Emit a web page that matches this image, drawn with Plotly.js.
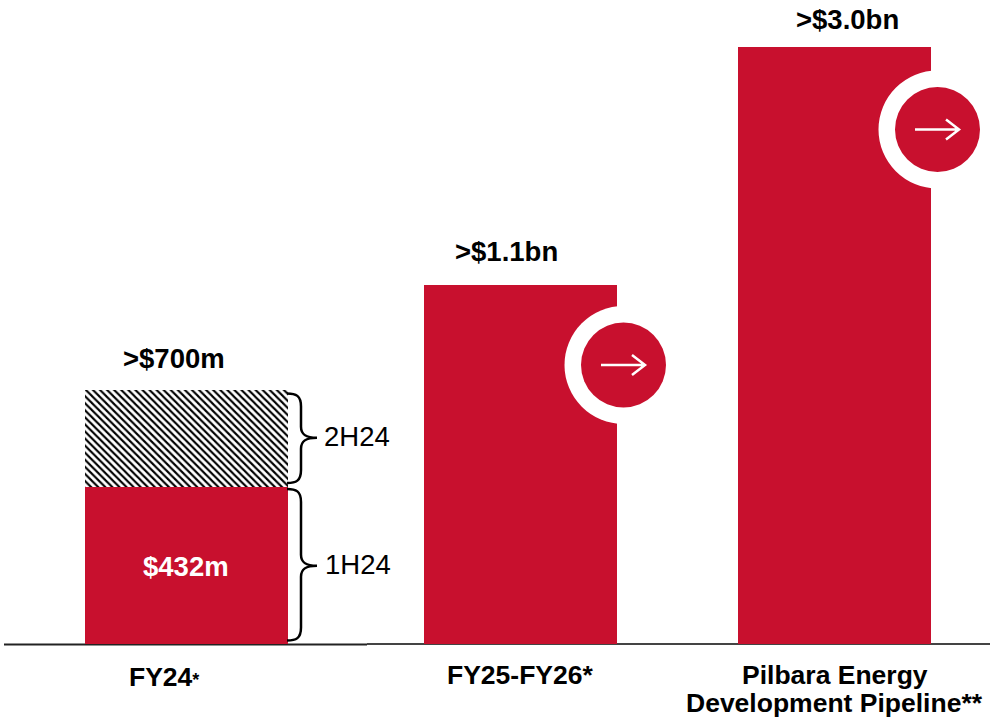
<!DOCTYPE html>
<html><head><meta charset="utf-8">
<script src="https://cdn.plot.ly/plotly-3.0.1.min.js"></script>
<style>html,body{margin:0;padding:0;background:#fff}#c{width:990px;height:718px}</style>
</head><body><div id="c"></div>
<script>
// Drawn bar heights (the chart is not to scale)
const categories = ['FY24', 'FY25-FY26*', 'Pilbara Energy', 'Development Pipeline**'];
const solidValues = [432, 990, 1647];
const hatchedValues = [268];
const topLabels = ['>$700m', '>$1.1bn', '>$3.0bn'];
const insideLabel = '$432m';
const braceLabels = ['2H24', '1H24'];

// layout constants (pixels)
const W = 990, H = 718, BASE = 644, PXPER = 0.3625;
const centers = [186.5, 520.5, 834.5];
const widths = [203, 193, 193];
const labelPos = [174, 506, 847];
const RED = '#C8102E';
const FONT = '"Liberation Sans", Arial, sans-serif';
const yp = p => (BASE - p) / PXPER;

function brace(x0, y0, y1) {
  const m = (y0 + y1) / 2 + (y0 < 450 ? -0.5 : 1), xm = x0 + 14, tip = x0 + 30;
  return `M${x0},${y0} C${x0+9},${y0} ${xm},${y0+2} ${xm},${y0+13} L${xm},${m-11} C${xm},${m-3} ${xm+5},${m} ${tip},${m} ` +
         `C${xm+5},${m} ${xm},${m+3} ${xm},${m+11} L${xm},${y1-13} C${xm},${y1-2} ${x0+9},${y1} ${x0},${y1}`;
}
function pxPath(path) { return path.replace(/(-?[\d.]+),(-?[\d.]+)/g, (m, x, y) => x + ',' + yp(+y)); }

const shapes = [];
// baseline
shapes.push({type:'line', xref:'x', yref:'y', x0:4, x1:367, y0:yp(644.5), y1:yp(644.5), line:{color:'#222', width:2}, layer:'below'});
shapes.push({type:'line', xref:'x', yref:'y', x0:367, x1:990, y0:yp(644), y1:yp(644), line:{color:'#444', width:2}, layer:'below'});
// braces
shapes.push({type:'path', path:pxPath(brace(287, 393.5, 483)), line:{color:'#000', width:2.5}, xref:'x', yref:'y'});
shapes.push({type:'path', path:pxPath(brace(287, 489, 640.5)), line:{color:'#000', width:2.5}, xref:'x', yref:'y'});
// arrow badges
[[623.5, 365], [937.5, 129.5]].forEach(([cx, cy]) => {
  const circ = (r, col) => ({type:'circle', xref:'x', yref:'y', x0:cx-r, x1:cx+r, y0:yp(cy-r), y1:yp(cy+r), fillcolor:col, line:{width:0}});
  shapes.push(circ(59, '#fff'));
  shapes.push(circ(42.5, RED));
  shapes.push({type:'path', xref:'x', yref:'y', line:{color:'#fff', width:2.5},
    path:pxPath(`M${cx-22.5},${cy} L${cx+21.5},${cy} M${cx+8.5},${cy-10} L${cx+21.5},${cy} L${cx+8.5},${cy+10}`)});
});

const ann = (x, y, text, size, bold, color) => ({x, y:yp(y), xref:'x', yref:'y', text: bold ? `<b>${text}</b>` : text,
  showarrow:false, xanchor:'center', yanchor:'middle', font:{family:FONT, size, color: color || '#000'}});
const annotations = [
  ann(labelPos[0], 358, topLabels[0], 27.5, true),
  ann(labelPos[1], 251, topLabels[1], 27.5, true),
  ann(labelPos[2], 19, topLabels[2], 27.5, true),
  ann(185.5, 566, insideLabel, 27.5, true, '#fff'),
  ann(357, 436, braceLabels[0], 27.5, false),
  ann(357.5, 564.5, braceLabels[1], 27.5, false),
  ann(164, 677, categories[0] + '<span style="font-size:18px">*</span>', 26.5, true),
  ann(520, 675, categories[1], 26.5, true),
  ann(834.5, 675, categories[2], 26.5, true),
  ann(834, 703, categories[3], 26.5, true)
];

const traces = [
  {type:'bar', x:centers, y:solidValues, width:widths, marker:{color:RED, line:{width:0}}, hoverinfo:'skip', showlegend:false},
  {type:'bar', x:[centers[0]], y:hatchedValues, width:[widths[0]],
   marker:{color:'#fff', line:{width:0}, pattern:{shape:'\\', fgcolor:'#000', bgcolor:'#fff', size:5, solidity:0.42}}, hoverinfo:'skip', showlegend:false}
];

Plotly.newPlot('c', traces, {
  width:W, height:H, margin:{l:0, r:0, t:0, b:0}, paper_bgcolor:'#fff', plot_bgcolor:'#fff',
  barmode:'stack', showlegend:false, shapes, annotations,
  xaxis:{range:[0, W], visible:false, fixedrange:true},
  yaxis:{range:[(BASE-H)/PXPER, BASE/PXPER], visible:false, fixedrange:true}
}, {displayModeBar:false, staticPlot:true});
</script></body></html>
